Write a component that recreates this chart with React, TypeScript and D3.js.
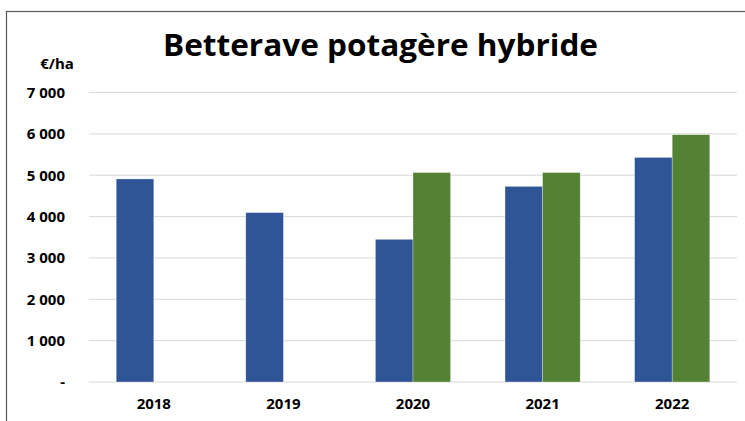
import React from "react";
import * as d3 from "d3";

const categories = ["2018", "2019", "2020", "2021", "2022"];
const seriesA: (number | null)[] = [4910, 4095, 3450, 4730, 5430];
const seriesB: (number | null)[] = [null, null, 5065, 5065, 5980];
const yTicks = [0, 1000, 2000, 3000, 4000, 5000, 6000, 7000];
const title = "Betterave potagère hybride";
const unit = "€/ha";

const W = 745, H = 421;
const FONT = "'Open Sans', Lato, sans-serif";

export default function App() {
  const x = d3.scaleBand<string>().domain(categories).range([89, 737]).paddingInner(0).paddingOuter(0);
  const y = d3.scaleLinear().domain([0, 7000]).range([382, 92.5]);
  const bw = x.bandwidth();
  const barW = bw * 0.29;
  const fmt = (v: number) => (v === 0 ? "-" : d3.format(",")(v).replace(",", " "));
  const series = [
    { values: seriesA, color: "#2F5597", off: -barW },
    { values: seriesB, color: "#548235", off: 0 },
  ];
  return (
    <svg width={W} height={H} style={{ position: "absolute", left: 0, top: 0, background: "#fff" }}>
      <rect x={6.5} y={11.5} width={W} height={H} fill="#fff" stroke="#595959" strokeWidth={1.2} />
      <text x={380.5} y={56} textAnchor="middle" fontFamily={FONT} fontWeight={700} fontSize={31} textLength={435} lengthAdjust="spacingAndGlyphs" fill="#000">{title}</text>
      <text x={57} y={69} textAnchor="middle" fontFamily={FONT} fontWeight={700} fontSize={15} fill="#000">{unit}</text>
      {yTicks.map((t) => (
        <g key={t}>
          <line x1={89} x2={737} y1={y(t)} y2={y(t)} stroke="#d9d9d9" strokeWidth={1} />
          <text x={65} y={y(t)} dy="0.36em" textAnchor="end" fontFamily={FONT} fontWeight={700} fontSize={15} fill="#000">{fmt(t)}</text>
        </g>
      ))}
      {series.map((s, si) =>
        categories.map((c, i) => {
          const v = s.values[i];
          if (v == null) return null;
          const cx = (x(c) as number) + bw / 2;
          return (
            <rect key={si + c} x={cx + s.off} y={y(v)} width={barW} height={y(0) - y(v)} fill={s.color} stroke="#ffffff" strokeOpacity={0.5} strokeWidth={0.6} />
          );
        })
      )}
      {categories.map((c) => (
        <text key={c} x={(x(c) as number) + bw / 2} y={404} dy="0.36em" textAnchor="middle" fontFamily={FONT} fontWeight={700} fontSize={15} fill="#000">{c}</text>
      ))}
    </svg>
  );
}
